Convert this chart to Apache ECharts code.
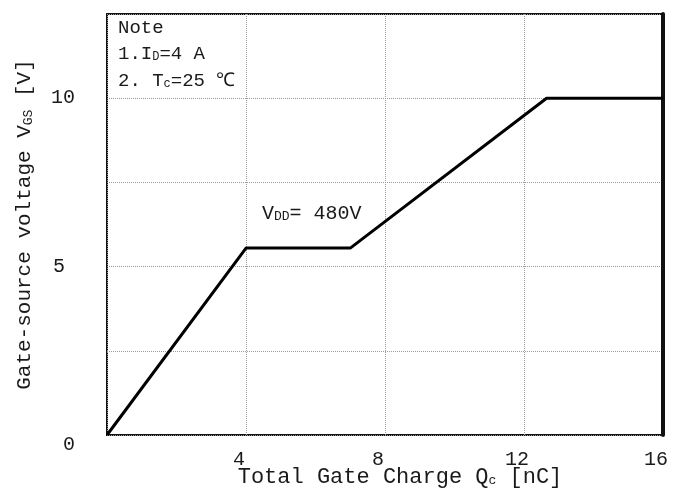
<!DOCTYPE html>
<html>
<head>
<meta charset="utf-8">
<script src="https://cdn.jsdelivr.net/npm/echarts@6/dist/echarts.min.js"></script>
<style>html,body{margin:0;padding:0;background:#fff}#c{width:689px;height:490px}</style>
</head>
<body>
<div id="c"></div>
<script>
// Data
var qg = [0, 4, 7, 12.65, 16];           // Total gate charge Qg [nC]
var vgs = [0, 5.55, 5.55, 10, 10];       // Gate-source voltage Vgs [V]
var xTicks = [4, 8, 12, 16];
var yTicks = [0, 5, 10];
var noteLines = ['Note', '1.I{s|D}=4 A', '2. T{s|c}=25 ℃'];
var vddLabel = 'V{s|DD}= 480V';

var FONT = 'Liberation Mono';
var TXT = '#1a1a1a';

var chart = echarts.init(document.getElementById('c'));
chart.setOption({
  animation: false,
  backgroundColor: '#fff',
  grid: { left: 107, right: 26, top: 14, bottom: 55, show: true, borderColor: '#111', borderWidth: 2,
    containLabel: false, outerBoundsMode: 'none' },
  xAxis: {
    type: 'value', min: 0, max: 16, interval: 4,
    name: 'Total Gate Charge Q{s|c} [nC]',
    nameLocation: 'middle', nameGap: 31, nameMoveOverlap: false,
    nameTextStyle: { fontFamily: FONT, fontSize: 22, color: TXT, padding: [0, 0, 0, 30],
      rich: { s: { fontFamily: FONT, fontSize: 13, color: TXT, padding: [8, 0, 0, 0] } } },
    axisLine: { show: false }, axisTick: { show: false },
    axisLabel: { fontFamily: FONT, fontSize: 20, color: TXT, margin: 15, padding: [0, 14, 0, 0],
      formatter: function (v) { return xTicks.indexOf(v) >= 0 ? String(v) : ''; } },
    splitLine: { show: true, lineStyle: { color: '#9a9a9a', type: 'dotted', width: 1 } }
  },
  yAxis: [{
    type: 'value', min: 0, max: 12.5, interval: 2.5,
    name: 'Gate-source voltage V{s|GS} [V]',
    nameLocation: 'middle', nameGap: 72, nameRotate: 90, nameMoveOverlap: false,
    nameTextStyle: { fontFamily: FONT, fontSize: 21, color: TXT,
      rich: { s: { fontFamily: FONT, fontSize: 13, color: TXT, padding: [8, 0, 0, 0] } } },
    axisLine: { show: false }, axisTick: { show: false },
    axisLabel: { fontFamily: FONT, fontSize: 20, color: TXT, margin: 32,
      formatter: function (v) {
        if (yTicks.indexOf(v) < 0) return '';
        if (v === 0) return '{z|0}';
        if (v === 5) return '{f|5}';
        return String(v);
      },
      rich: {
        z: { fontFamily: FONT, fontSize: 20, color: TXT, padding: [20, 0, 0, 0] },
        f: { fontFamily: FONT, fontSize: 20, color: TXT, padding: [0, 10, 0, 0] }
      } },
    splitLine: { show: true, lineStyle: { color: '#9a9a9a', type: 'dotted', width: 1 } }
  }, {
    type: 'value', min: 0, max: 12.5, position: 'right',
    axisLine: { show: true, lineStyle: { color: '#111', width: 4 } },
    axisTick: { show: false }, axisLabel: { show: false }, splitLine: { show: false }
  }],
  series: [{
    type: 'line',
    data: qg.map(function (x, i) { return [x, vgs[i]]; }),
    showSymbol: false, symbol: 'none',
    lineStyle: { color: '#000', width: 3 }
  }],
  graphic: [
    { type: 'text', left: 118, top: 18, style: { text: noteLines[0], font: '19px "Liberation Mono"', fill: TXT } },
    { type: 'text', left: 118, top: 44, style: { text: noteLines[1], font: '19px "Liberation Mono"', fill: TXT,
      rich: { s: { fontFamily: FONT, fontSize: 12, fill: TXT, padding: [6, 0, 0, 0] } } } },
    { type: 'text', left: 118, top: 71, style: { text: noteLines[2], font: '19px "Liberation Mono"', fill: TXT,
      rich: { s: { fontFamily: FONT, fontSize: 12, fill: TXT, padding: [6, 0, 0, 0] } } } },
    { type: 'text', left: 262, top: 204, style: { text: vddLabel, font: '20px "Liberation Mono"', fill: TXT,
      rich: { s: { fontFamily: FONT, fontSize: 13, fill: TXT, padding: [6, 0, 0, 0] } } } }
  ]
});
</script>
</body>
</html>
